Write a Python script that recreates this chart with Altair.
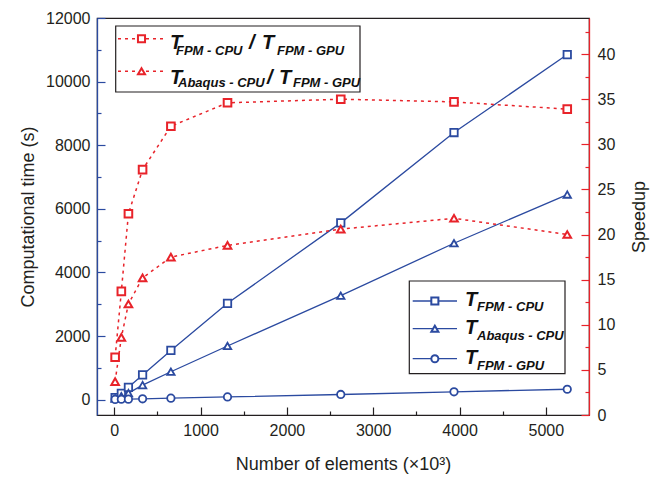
import altair as alt
import pandas as pd

# ---------------- data ----------------
elements = [10, 82, 164, 328, 656, 1312, 2624, 3936, 5248]
t_fpm_cpu = [70, 200, 390, 780, 1550, 3030, 5560, 8400, 10850]
t_abaqus_cpu = [35, 110, 210, 460, 880, 1690, 3270, 4920, 6450]
t_fpm_gpu = [11, 15, 18, 29, 49, 88, 165, 250, 330]
speedup_fpm = [6.4, 13.7, 22.3, 27.2, 32.0, 34.6, 35.0, 34.7, 33.9]
speedup_abaqus = [3.7, 8.6, 12.3, 15.2, 17.5, 18.8, 20.6, 21.8, 20.0]

time_series = ["FPM - CPU", "Abaqus - CPU", "FPM - GPU"]
speed_series = ["FPM - CPU / FPM - GPU", "Abaqus - CPU / FPM - GPU"]
speed_num = ["FPM - CPU", "Abaqus - CPU"]
speed_den = ["FPM - GPU", "FPM - GPU"]

x_ticks = [0, 1000, 2000, 3000, 4000, 5000]
x_minor = [500, 1500, 2500, 3500, 4500]
time_ticks = [0, 2000, 4000, 6000, 8000, 10000, 12000]
time_minor = [1000, 3000, 5000, 7000, 9000, 11000]
speed_ticks = [0, 5, 10, 15, 20, 25, 30, 35, 40]
speed_minor = [2.5, 7.5, 12.5, 17.5, 22.5, 27.5, 32.5, 37.5, 42.5]

# ---------------- style ----------------
W, H = 492, 397
BLUE = "#2b4aa0"
RED = "#e8232a"
INK = "#231f20"
FONT = "Liberation Sans"
TIME_DOM = [-480, 12000]
SPEED_DOM = [0, 44]

time_df = pd.DataFrame({
    "x": elements * 3,
    "v": t_fpm_cpu + t_abaqus_cpu + t_fpm_gpu,
    "s": [time_series[0]] * 9 + [time_series[1]] * 9 + [time_series[2]] * 9,
})
speed_df = pd.DataFrame({
    "x": elements * 2,
    "v": speedup_fpm + speedup_abaqus,
    "s": [speed_series[0]] * 9 + [speed_series[1]] * 9,
})

xscale = alt.Scale(domain=[-200, 5500], nice=False, zero=False)
tscale = alt.Scale(domain=TIME_DOM, nice=False, zero=False)
sscale = alt.Scale(domain=SPEED_DOM, nice=False, zero=False)

x_main_axis = alt.Axis(orient="bottom", values=x_ticks, ticks=False, labelPadding=7, format="d",
                       domainColor=INK, domainWidth=1.2, grid=False,
                       title="Number of elements (×10³)", titlePadding=17)

time_line = alt.Chart(time_df).mark_line(color=BLUE, strokeWidth=1.3).encode(
    x=alt.X("x:Q", scale=xscale, axis=x_main_axis),
    y=alt.Y("v:Q", scale=tscale,
            axis=alt.Axis(orient="left", values=time_ticks, ticks=False, labelPadding=7, format="d",
                          domainColor=BLUE, domainWidth=1.3, grid=False,
                          title="Computational time (s)", titlePadding=8)),
    detail="s:N",
)
time_pts = alt.Chart(time_df).mark_point(color=BLUE, fill="white", filled=False, opacity=1,
                                         strokeWidth=1.8, size=55).encode(
    x=alt.X("x:Q", scale=xscale, axis=None),
    y=alt.Y("v:Q", scale=tscale, axis=None),
    shape=alt.Shape("s:N", scale=alt.Scale(domain=time_series,
                                           range=["square", "triangle-up", "circle"]), legend=None),
)

speed_line = alt.Chart(speed_df).mark_line(color=RED, strokeWidth=1.5, strokeDash=[3, 4]).encode(
    x=alt.X("x:Q", scale=xscale, axis=None),
    y=alt.Y("v:Q", scale=sscale,
            axis=alt.Axis(orient="right", values=speed_ticks, ticks=False, labelPadding=8, format="d",
                          domainColor=RED, domainWidth=1.3, grid=False,
                          title="Speedup", titleAngle=270, titleBaseline="top", titlePadding=16)),
    detail="s:N",
)
speed_pts = alt.Chart(speed_df).mark_point(color=RED, fill="white", filled=False, opacity=1,
                                           strokeWidth=2, size=58).encode(
    x=alt.X("x:Q", scale=xscale, axis=None),
    y=alt.Y("v:Q", scale=sscale, axis=None),
    shape=alt.Shape("s:N", scale=alt.Scale(domain=speed_series,
                                           range=["square", "triangle-up"]), legend=None),
)


def ytick_layer(df, scale, values, size, orient, color):
    return alt.Chart(df).mark_point(opacity=0).encode(
        x=alt.X("x:Q", scale=xscale, axis=None),
        y=alt.Y("v:Q", scale=scale,
                axis=alt.Axis(orient=orient, offset=-W, values=values, labels=False,
                              domain=False, ticks=True, tickSize=size, tickColor=color,
                              tickWidth=1.2, title=None, grid=False)),
    )


def xtick_layer(values, size):
    return alt.Chart(time_df).mark_point(opacity=0).encode(
        x=alt.X("x:Q", scale=xscale,
                axis=alt.Axis(orient="top", offset=-H, values=values, labels=False,
                              domain=False, ticks=True, tickSize=size, tickColor=INK,
                              tickWidth=1.2, title=None, grid=False)),
        y=alt.Y("v:Q", scale=tscale, axis=None),
    )


tick_layers = [
    ytick_layer(time_df, tscale, time_ticks, 8, "right", BLUE),
    ytick_layer(time_df, tscale, time_minor, 4, "right", BLUE),
    ytick_layer(speed_df, sscale, speed_ticks, 8, "left", RED),
    ytick_layer(speed_df, sscale, speed_minor, 4, "left", RED),
    xtick_layer(x_ticks, 8),
    xtick_layer(x_minor, 4),
]

# ---------------- custom legends ----------------
dummy = pd.DataFrame({"d": [0]})


def txt(s, x, y, size):
    return alt.Chart(dummy).mark_text(text=s, align="left", baseline="alphabetic", font=FONT,
                                      fontSize=size, fontStyle="italic", fontWeight="bold",
                                      color="#111").encode(x=alt.value(x), y=alt.value(y))


def box(x1, x2, y1, y2):
    return alt.Chart(dummy).mark_rect(fill="white", stroke=INK, strokeWidth=1.2).encode(
        x=alt.value(x1), x2=alt.value(x2), y=alt.value(y1), y2=alt.value(y2))


def sample(x1, x2, y, color, shape, dash):
    rule_kw = dict(color=color, strokeWidth=1.5 if dash else 1.3)
    if dash:
        rule_kw["strokeDash"] = [3, 4]
    r = alt.Chart(dummy).mark_rule(**rule_kw).encode(x=alt.value(x1), x2=alt.value(x2), y=alt.value(y))
    p = alt.Chart(dummy).mark_point(shape=shape, color=color, fill="white", filled=False, opacity=1,
                                    strokeWidth=2, size=50).encode(x=alt.value((x1 + x2) / 2), y=alt.value(y))
    return [r, p]


SUB = 13
legend = [box(18.7, 263, 8, 74)]
legend += sample(21, 68, 20.7, RED, "square", True)
legend += [txt("T", 73, 31, 20), txt(speed_num[0], 79, 36.5, SUB), txt("/", 152, 31, 20),
           txt("T", 165, 31, 20), txt(speed_den[0], 180, 36.5, SUB)]
legend += sample(21, 68, 53.3, RED, "triangle-up", True)
legend += [txt("T", 73, 65.7, 20), txt(speed_num[1], 81, 68.5, SUB), txt("/", 170, 65.7, 20),
           txt("T", 182, 65.7, 20), txt(speed_den[1], 196, 68.5, SUB)]

legend += [box(312.3, 468, 263, 355.7)]
rows_y = [283, 310.7, 340.7]
t_base = [288.3, 315.7, 346.3]
s_base = [293, 322.3, 352.3]
shapes = ["square", "triangle-up", "circle"]
for i in range(3):
    legend += sample(315.7, 360, rows_y[i], BLUE, shapes[i], False)
    legend += [txt("T", 368, t_base[i], 20), txt(time_series[i], 380, s_base[i], SUB)]

chart = alt.layer(
    time_line, time_pts, speed_line, speed_pts, *tick_layers, *legend
).resolve_scale(y="independent").resolve_axis(x="independent", y="independent").properties(
    width=W, height=H, padding={"left": 19, "top": 10, "right": 2, "bottom": 2}
).configure_view(stroke=INK, strokeWidth=1.2).configure_axis(
    labelFont=FONT, titleFont=FONT, labelFontSize=16, titleFontSize=18,
    labelColor=INK, titleColor=INK, titleFontWeight="normal"
)

chart.save("out.html", embed_options={"renderer": "svg", "actions": False})
